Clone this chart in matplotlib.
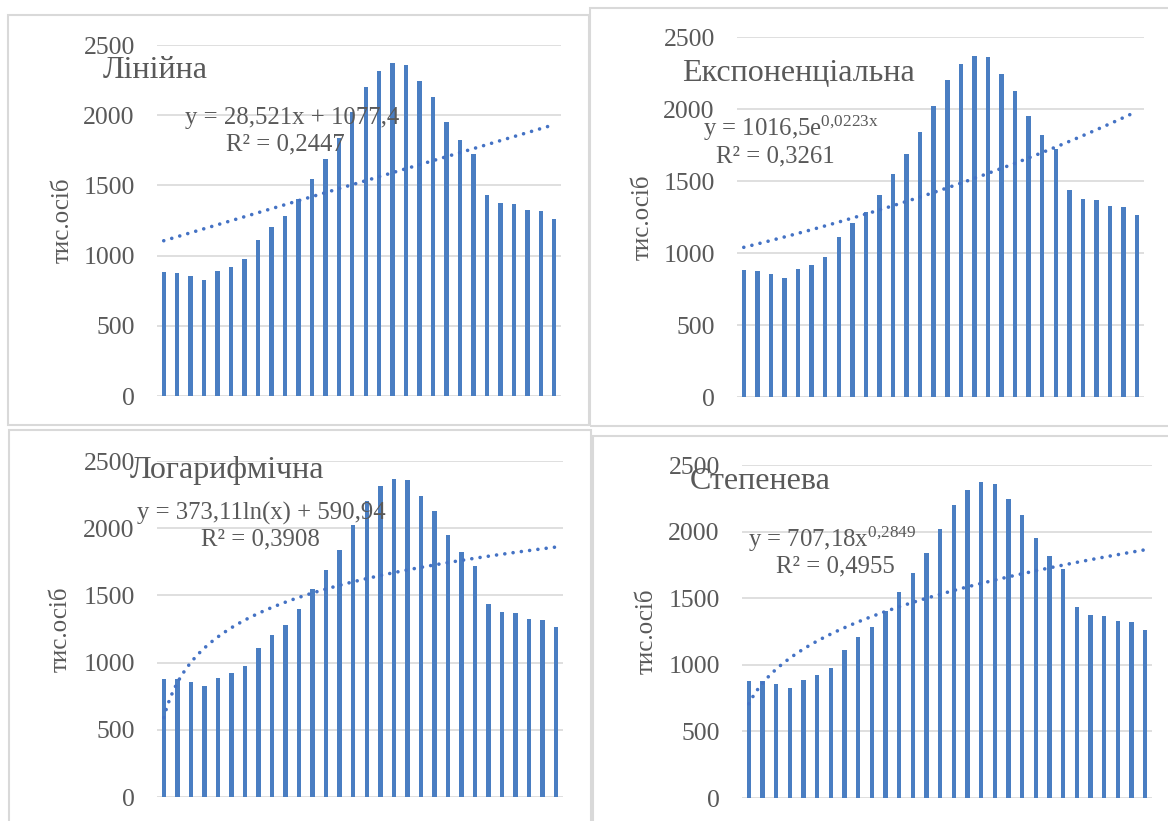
import numpy as np
import matplotlib
matplotlib.use("Agg")
import matplotlib.pyplot as plt
from matplotlib.patches import Rectangle

# ---------------- data ----------------
periods = np.arange(1, 31)
values = [880, 875, 854, 828, 888, 920, 975, 1109, 1207, 1283,
          1401, 1546, 1686, 1840, 2022, 2199, 2313, 2369, 2361, 2242,
          2127, 1950, 1820, 1721, 1435, 1375, 1368, 1327, 1320, 1263]
y_ticks = [0, 500, 1000, 1500, 2000, 2500]
y_label = "тис.осіб"
titles = ["Лінійна", "Експоненціальна", "Логарифмічна", "Степенева"]
eq_texts = ["y = 28,521x + 1077,4",
            r"y = 1016,5e$\mathregular{^{0{,}0223x}}$",
            "y = 373,11ln(x) + 590,94",
            r"y = 707,18x$\mathregular{^{0{,}2849}}$"]
r2_texts = ["R² = 0,2447", "R² = 0,3261", "R² = 0,3908", "R² = 0,4955"]
lin_coef = [28.521, 1077.4]
exp_coef = [1016.5, 0.0223]
log_coef = [373.11, 590.94]
pow_coef = [707.18, 0.2849]

# ---------------- style ----------------
W, H = 1168, 821
BAR = "#4A7EC2"
TXT = "#595959"
GRID = "#D9D9D9"
FONT = "Liberation Serif"
plt.rcParams["font.family"] = [FONT, "DejaVu Serif"]

fig = plt.figure(figsize=(W / 100, H / 100), dpi=100)
fig.patch.set_facecolor("white")


def frect(x0, y0, x1, y1):
    return [x0 / W, 1 - y1 / H, (x1 - x0) / W, (y1 - y0) / H]


def ftext(x, y, s, **kw):
    fig.text(x / W, 1 - y / H, s, color=TXT, **kw)


panels = [
    dict(box=(8, 15, 589, 425), ax=(157, 45, 561, 396), ylx=63,
         title=(103, 78), eq=(292, 124), r2=(285, 150)),
    dict(box=(590, 8, 1175, 426), ax=(737, 37, 1144, 397), ylx=643,
         title=(682, 81), eq=(791, 136), r2=(775, 162)),
    dict(box=(9, 430, 591, 830), ax=(157, 461, 563, 797), ylx=61,
         title=(130, 478), eq=(261, 520), r2=(260, 545)),
    dict(box=(593, 436, 1175, 830), ax=(742, 465, 1152, 798), ylx=647,
         title=(690, 489), eq=(832, 547), r2=(835, 572)),
]

xs = np.linspace(1, 30, 300)
trends = [
    lin_coef[0] * xs + lin_coef[1],
    exp_coef[0] * np.exp(exp_coef[1] * xs),
    log_coef[0] * np.log(xs) + log_coef[1],
    pow_coef[0] * xs ** pow_coef[1],
]

for i, p in enumerate(panels):
    bx0, by0, bx1, by1 = p["box"]
    fig.patches.append(Rectangle((bx0 / W, 1 - by1 / H), (bx1 - bx0) / W,
                                 (by1 - by0) / H, transform=fig.transFigure,
                                 fill=False, edgecolor=GRID, linewidth=1.5,
                                 zorder=0))
    ax = fig.add_axes(frect(*p["ax"]))
    ax.set_facecolor("none")
    ax.bar(periods, values, width=0.33, color=BAR, zorder=2)
    ax.plot(xs, trends[i], color="#4472C4", linewidth=2.6,
            linestyle=(0, (0.01, 2.3)), dash_capstyle="round", zorder=3)
    ax.set_xlim(0.5, 30.5)
    ax.set_ylim(0, 2500)
    ax.set_yticks(y_ticks)
    ax.set_yticklabels([str(t) for t in y_ticks])
    ax.set_xticks([])
    for s in ax.spines.values():
        s.set_visible(False)
    ax.grid(axis="y", color=GRID, linewidth=1.2, zorder=0)
    ax.set_axisbelow(True)
    ax.tick_params(axis="y", length=0, pad=16, labelsize=18.5, labelcolor=TXT)
    ay0, ay1 = p["ax"][1], p["ax"][3]
    ftext(p["ylx"], (ay0 + ay1) / 2, y_label, rotation=90, ha="center",
          va="center", fontsize=18)
    ftext(p["title"][0], p["title"][1], titles[i], ha="left", va="baseline",
          fontsize=23)
    ftext(p["eq"][0], p["eq"][1], eq_texts[i], ha="center", va="baseline",
          fontsize=17.8)
    ftext(p["r2"][0], p["r2"][1], r2_texts[i], ha="center", va="baseline",
          fontsize=17.8)

fig.savefig("out.png", dpi=100, facecolor="white")
